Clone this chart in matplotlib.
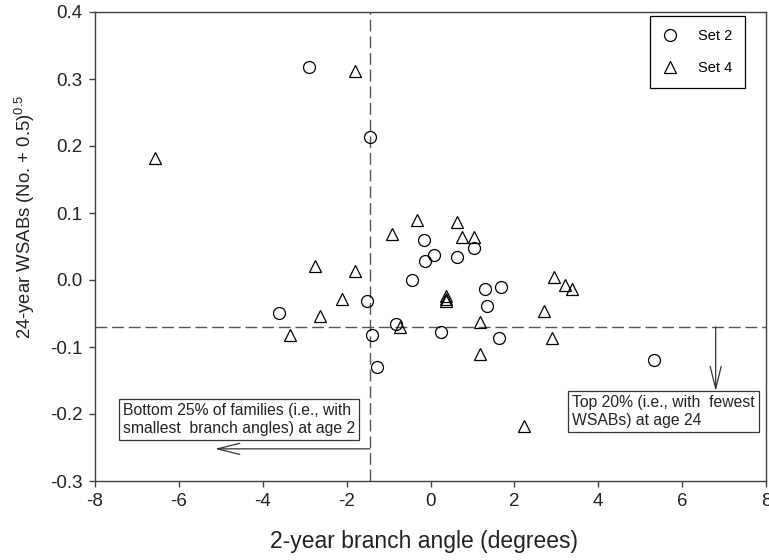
import matplotlib
matplotlib.use("Agg")
import matplotlib.pyplot as plt
from matplotlib import font_manager

# 2-year branch angle (x) vs 24-year WSABs (y)
set2_x = [-2.90, -1.45, -3.62, -1.52, -1.40, -1.27, -0.82, -0.44, -0.15, -0.14,
          0.09, 0.26, 0.63, 1.04, 1.29, 1.34, 1.69, 1.63, 5.33]
set2_y = [0.318, 0.213, -0.049, -0.031, -0.082, -0.130, -0.065, 0.000, 0.059, 0.028,
          0.038, -0.077, 0.034, 0.048, -0.014, -0.039, -0.011, -0.087, -0.119]

set4_x = [-6.57, -1.81, -3.36, -2.64, -2.75, -2.10, -1.80, -0.91, -0.32, -0.72,
          0.37, 0.37, 0.37, 0.63, 0.75, 1.04, 1.17, 1.17, 2.24, 2.71,
          2.90, 2.95, 3.21, 3.37]
set4_y = [0.182, 0.312, -0.082, -0.054, 0.021, -0.028, 0.014, 0.068, 0.090, -0.070,
          -0.024, -0.028, -0.031, 0.086, 0.064, 0.064, -0.062, -0.110, -0.218, -0.046,
          -0.086, 0.004, -0.008, -0.013]

x_cut = -1.45
y_cut = -0.07

plt.rcParams["font.family"] = ["Liberation Sans", "DejaVu Sans"]
plt.rcParams["mathtext.fontset"] = "custom"
plt.rcParams["mathtext.rm"] = "Liberation Sans"
plt.rcParams["mathtext.default"] = "regular"

# the y label in the original looks horizontally squeezed
names = [f.name for f in font_manager.fontManager.ttflist]
ylab_font = "Liberation Sans Narrow" if "Liberation Sans Narrow" in names else "Liberation Sans"
ylab_size = 16.5 if ylab_font == "Liberation Sans Narrow" else 13.3

fig = plt.figure(figsize=(7.69, 5.6), dpi=100)
ax = fig.add_axes([95 / 769, 1 - 481 / 560, 671 / 769, 469 / 560])

ax.axvline(x_cut, color="#555555", lw=1, dashes=(8.5, 3.5), zorder=1)
ax.axhline(y_cut, color="#555555", lw=1, dashes=(8.5, 3.5), zorder=1)

ax.plot(set2_x, set2_y, "o", ms=8.6, mfc="none", mec="black", mew=0.9, label="Set 2", zorder=3)
ax.plot(set4_x, set4_y, "^", ms=8.6, mfc="none", mec="black", mew=0.9, label="Set 4", zorder=3)

ax.set_xlim(-8, 8)
ax.set_ylim(-0.3, 0.4)
ax.set_xticks([-8, -6, -4, -2, 0, 2, 4, 6, 8])
ax.set_yticks([-0.3, -0.2, -0.1, 0.0, 0.1, 0.2, 0.3, 0.4])
ax.set_yticklabels(["-0.3", "-0.2", "-0.1", "0.0", "0.1", "0.2", "0.3", "0.4"])
ax.set_xticklabels(["-8", "-6", "-4", "-2", "0", "2", "4", "6", "8"])
ax.tick_params(direction="out", length=4, width=1, colors="#404040",
               labelcolor="#222222", labelsize=13.5, pad=5)
for s in ax.spines.values():
    s.set_color("#404040")
    s.set_linewidth(1)

ax.set_xlabel("2-year branch angle (degrees)", fontsize=16.5, color="#222222")
ax.set_ylabel(r"24-year WSABs (No. + 0.5)$^{0.5}$", fontsize=ylab_size, color="#222222",
              family=[ylab_font, "DejaVu Sans"])
ax.xaxis.set_label_coords(0.49, -0.105)
ax.yaxis.set_label_coords(-0.086, 0.563)

leg = ax.legend(loc="upper right", bbox_to_anchor=(0.969, 0.991), borderaxespad=0,
                fancybox=False, edgecolor="black", fontsize=10.5, handlelength=1.0,
                handletextpad=1.4, labelspacing=1.2, borderpad=0.9, framealpha=1)
leg.get_frame().set_linewidth(0.9)

box = dict(boxstyle="square,pad=0.27", fc="white", ec="#333333", lw=0.9)
ax.text(-7.33, -0.208, "Bottom 25% of families (i.e., with\nsmallest  branch angles) at age 2",
        fontsize=11.3, color="#222222", ha="left", va="center", bbox=box, zorder=4)
ax.text(3.38, -0.196, "Top 20% (i.e., with  fewest\nWSABs) at age 24",
        fontsize=11.3, color="#222222", ha="left", va="center", bbox=box, zorder=4)

arrow = dict(arrowstyle="->,head_length=1.6,head_width=0.4", color="#333333", lw=0.9,
             mutation_scale=10, shrinkA=0, shrinkB=0)
ax.annotate("", xy=(-5.14, -0.252), xytext=(x_cut, -0.252), arrowprops=arrow)
ax.annotate("", xy=(6.8, -0.166), xytext=(6.8, y_cut), arrowprops=arrow)

fig.savefig("out.png", dpi=100)
